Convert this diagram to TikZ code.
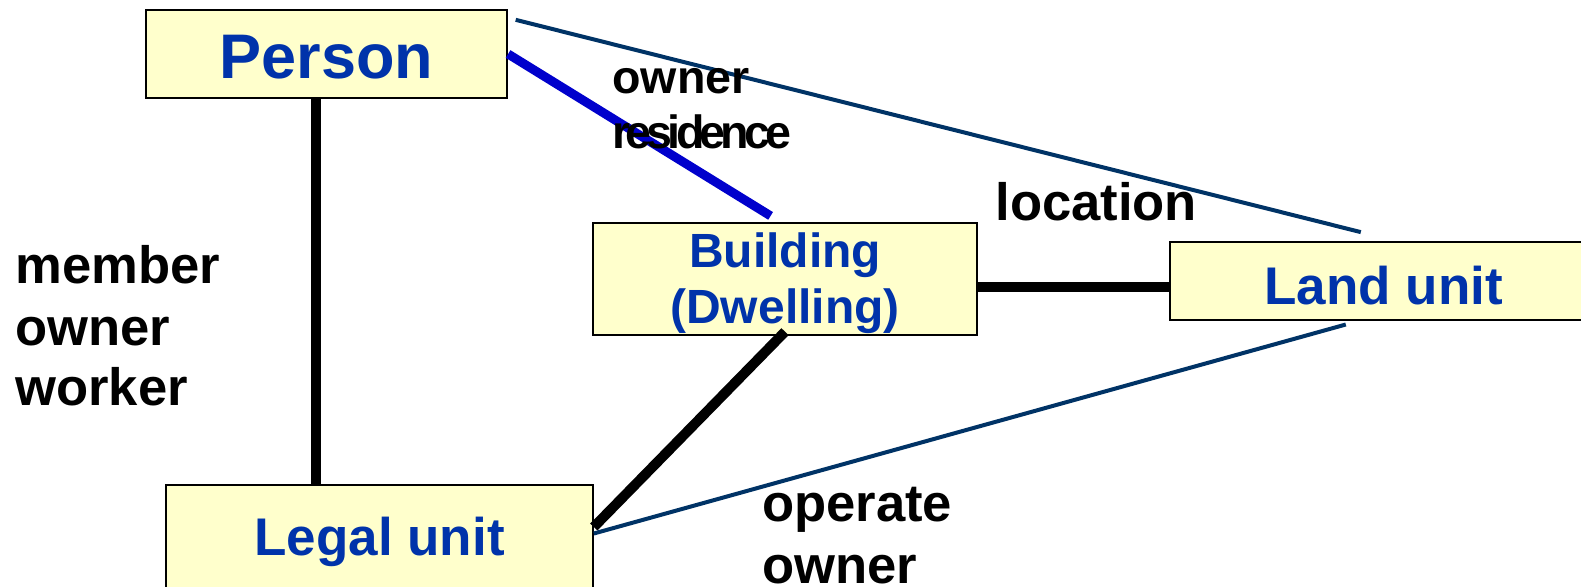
\documentclass[tikz,border=0pt]{standalone}
\usepackage{fontspec}
\setmainfont{Liberation Sans}
\usetikzlibrary{calc}
\definecolor{boxfill}{HTML}{FFFFCC}
\definecolor{txtblue}{HTML}{0033AA}
\definecolor{lineblue}{HTML}{0000CC}
\definecolor{navy}{HTML}{003366}
\newcommand{\tk}{\kern-2.4pt}
\begin{document}
\begin{tikzpicture}[x=0.5pt,y=-0.5pt,
  entity/.style={draw=black,line width=0.9pt,fill=boxfill,text=txtblue,inner sep=0pt,align=center},
  rel/.style={font=\bfseries\fontsize{26.3}{31}\selectfont,anchor=base west,inner sep=0pt},
  relsmall/.style={font=\bfseries\fontsize{23.3}{28}\selectfont,anchor=base west,inner sep=0pt},
  heavy/.style={line width=5pt,black},
  bluelink/.style={line width=4.5pt,lineblue},
  thinlink/.style={line width=2pt,navy}]
\useasboundingbox (0,0) rectangle (1581,586);
\begin{scope}
\clip (0,0) rectangle (1581,586);
% entities
\node[entity,minimum width=180.5pt,minimum height=43.9pt,font=\bfseries\fontsize{31.5}{36}\selectfont] (person) at (326.7,54) {\rule{0pt}{24.6pt}Person};
\node[entity,minimum width=192pt,minimum height=56pt,font=\bfseries\fontsize{24}{28}\selectfont] (building) at (785,278.8) {\rule{0pt}{21.5pt}Building\\(Dwelling)};
\node[entity,minimum width=214pt,minimum height=38.8pt,font=\bfseries\fontsize{26.5}{31}\selectfont] (land) at (1383.8,280.8) {\rule{0pt}{23.5pt}Land unit};
\node[entity,minimum width=213.3pt,minimum height=56.5pt,font=\bfseries\fontsize{26.5}{31}\selectfont] (legal) at (379.6,541.5) {Legal unit};
% connectors
\draw[heavy] ($(person.south)+(-11,0)$) coordinate (pa) -- (pa |- legal.north);
\draw[bluelink] (person.east) -- ($(building.north)+(-14.4,-6)$);
\draw[thinlink] ($(person.north east)+(7.6,10.6)$) -- ($(land.north)+(-23,-9)$);
\draw[heavy] ($(building.east)+(0,7.7)$) coordinate (bb) -- (bb -| land.west);
\draw[heavy] ($(building.south)+(0,-4)$) -- ($(legal.east)+(0,-14.5)$);
\draw[thinlink] ($(legal.east)+(0,-8)$) -- ($(land.south)+(-38,4)$);
% labels
\node[rel] (lmember) at (15,283.3) {member};
\node[rel] (lowner1) at (15,345) {owner};
\node[rel] (lworker) at (15,405) {worker};
\node[relsmall] (lowner2) at (612,93.5) {owner};
\node[relsmall] (lresidence) at (612,148.5) {r\tk e\tk s\tk i\tk d\tk e\tk n\tk c\tk e};
\node[rel] (llocation) at (995,220) {location};
\node[rel] (loperate) at (761.7,521.7) {operate};
\node[rel] (lowner3) at (761.7,583) {owner};
\end{scope}
\end{tikzpicture}
\end{document}
